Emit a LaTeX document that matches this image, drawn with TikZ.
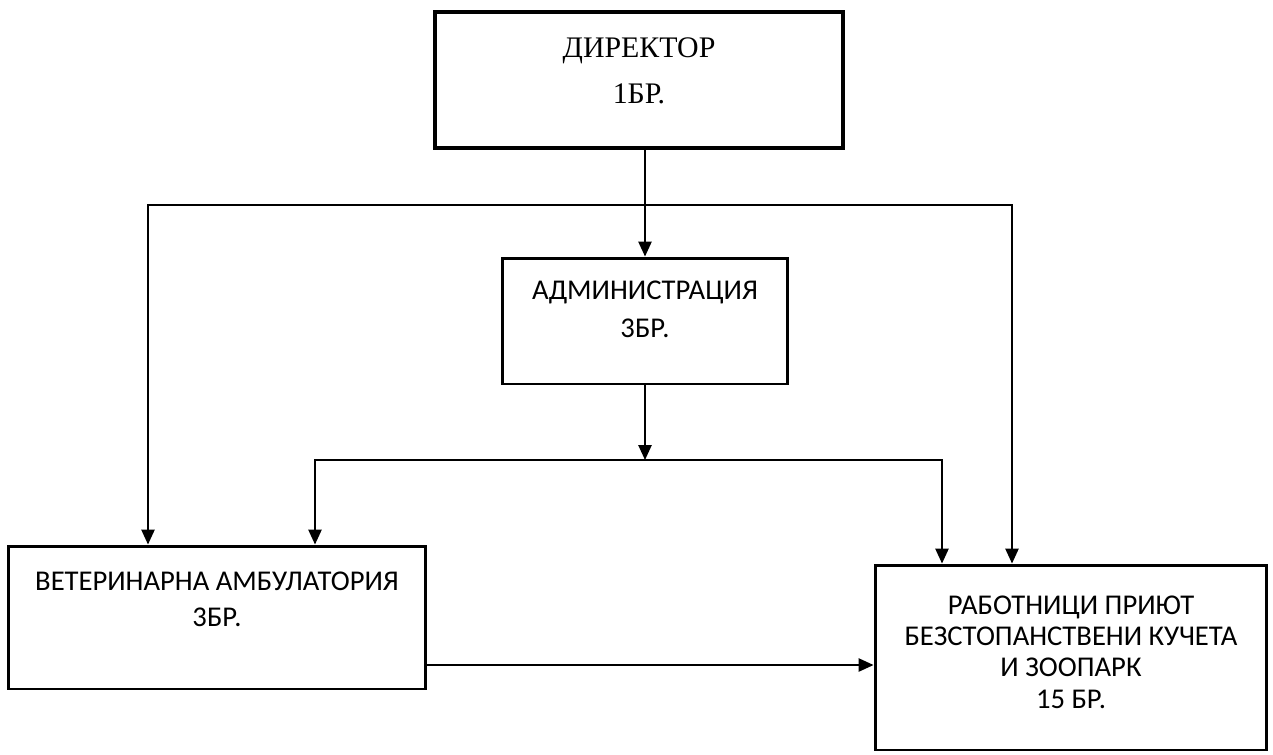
\documentclass[tikz,border=0pt]{standalone}
\usepackage{fontspec}
\setmainfont{Carlito}
\newfontfamily\dirfont{Liberation Serif}
\usetikzlibrary{arrows.meta, positioning}
\tikzset{
  >={Triangle[width=7.5pt,length=8.5pt]}, % filled arrow heads
  box/.style={draw, line width=1.7pt, align=center, inner sep=0pt,
    font=\fontsize{16.3}{19.5}\selectfont},
  link/.style={line width=1.1pt},
}

\begin{document}
\begin{tikzpicture}[x=0.02cm, y=-0.02cm]
    \useasboundingbox (0,0) rectangle (1273,754);

    \node[box, line width=2.6pt, minimum width=8.16cm, minimum height=2.72cm,
      font=\dirfont\fontsize{17}{20}\selectfont, text depth=11pt]
      (director) at (639,80) {ДИРЕКТОР\\[6pt]1БР.};
    \node[box, minimum width=5.7cm, minimum height=2.52cm, text depth=13.3pt]
      (admin) at (645,321) {АДМИНИСТРАЦИЯ\\[2pt]3БР.};
    \node[box, minimum width=8.36cm, minimum height=2.86cm, text depth=20.8pt]
      (vet) at (217,617.5) {ВЕТЕРИНАРНА АМБУЛАТОРИЯ\\[1.5pt]3БР.};
    \node[box, minimum width=7.84cm, minimum height=3.7cm,
      font=\fontsize{16.3}{17.5}\selectfont, text depth=5.8pt]
      (workers) at (1071,657.5) {РАБОТНИЦИ ПРИЮТ\\БЕЗСТОПАНСТВЕНИ КУЧЕТА\\И ЗООПАРК\\[1pt]15 БР.};

    % corners of the two branch lines
    \coordinate (topL) at (148,205);
    \coordinate (topR) at (1012,205);
    \coordinate (midL) at (315,460);
    \coordinate (midR) at (942,460);
    \coordinate (side) at (0,665);

    \draw[link, ->] (admin |- director.south) -- (admin);
    \draw[link, <->] (vet.north -| topL) -- (topL) -- (topR) -- (workers.north -| topR);
    \draw[link, ->] (admin) -- (admin.south |- midL);
    \draw[link, <->] (vet.north -| midL) -- (midL) -- (midR) -- (workers.north -| midR);
    \draw[link, ->] (vet.east |- side) -- (workers.west |- side);
\end{tikzpicture}
\end{document}
